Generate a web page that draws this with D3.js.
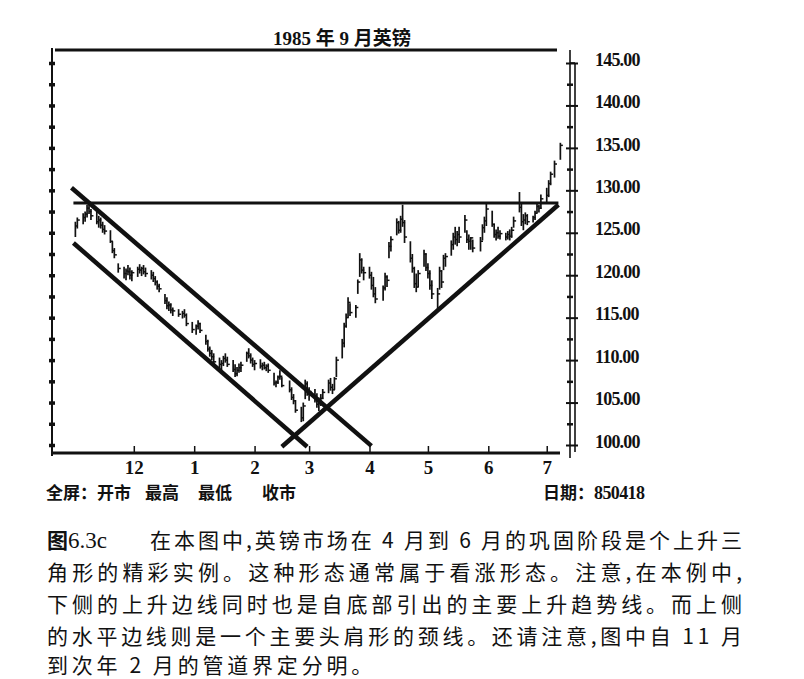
<!DOCTYPE html>
<html>
<head>
<meta charset="utf-8">
<script src="https://cdn.jsdelivr.net/npm/d3@7"></script>
<style>
body { margin: 0; background: #fff; }
</style>
</head>
<body>
<div id="chart"></div>
<script>
// daily bars, 1985 Sept British pound contract (trading days, yymmdd)
var dates = [
    "841101","841102","841105","841106","841107","841108","841109","841112","841113","841114","841115","841116","841119","841120","841121","841123","841126","841127","841128","841129","841130",
    "841203","841204","841205","841206","841207","841210","841211","841212","841213","841214","841217","841218","841219","841220","841221","841224","841226","841227","841228","841231",
    "850102","850103","850104","850107","850108","850109","850110","850111","850114","850115","850116","850117","850118","850121","850122","850123","850124","850125","850128","850129","850130","850131",
    "850201","850204","850205","850206","850207","850208","850211","850212","850213","850214","850215","850219","850220","850221","850222","850225","850226","850227","850228",
    "850301","850304","850305","850306","850307","850308","850311","850312","850313","850314","850315","850318","850319","850320","850321","850322","850325","850326","850327","850328","850329",
    "850401","850402","850403","850404","850408","850409","850410","850411","850412","850415","850416","850417","850418","850419","850422","850423","850424","850425","850426","850429","850430",
    "850501","850502","850503","850506","850507","850508","850509","850510","850513","850514","850515","850516","850517","850520","850521","850522","850523","850524","850528","850529","850530","850531",
    "850603","850604","850605","850606","850607","850610","850611","850612","850613","850614","850617","850618","850619","850620","850621","850624","850625","850626","850627","850628",
    "850701","850702","850703","850705","850708"
];
var highs = [
    126.3,126.8,127.3,127.5,128.3,128.6,127.8,127.5,127.0,126.8,126.3,125.9,125.3,124.0,123.2,121.4,121.0,120.8,121.2,120.9,120.6,
    121.0,121.3,121.0,121.2,120.9,120.6,120.4,119.9,119.4,119.0,117.8,117.4,116.9,116.7,116.2,116.0,115.8,116.0,115.5,114.5,
    114.2,114.7,114.4,113.0,112.4,111.6,111.2,110.8,110.3,110.0,110.5,110.8,110.4,110.0,109.5,109.2,109.6,109.8,111.0,111.4,110.8,110.3,
    110.0,110.1,109.7,109.8,109.5,109.6,108.5,107.6,108.2,108.8,108.0,107.6,106.8,106.0,105.3,104.5,105.0,107.7,107.5,
    106.8,106.6,106.1,105.6,106.0,106.6,107.7,107.9,107.2,108.0,110.4,112.5,114.4,115.5,117.4,116.7,116.5,119.5,122.6,122.0,121.0,
    121.0,120.4,119.8,118.6,118.8,120.3,120.0,123.9,124.6,126.7,126.4,127.0,128.3,126.5,124.0,122.5,121.0,120.2,120.6,123.0,122.6,
    121.4,120.6,119.4,118.5,121.0,120.6,122.4,122.6,124.1,125.0,125.7,125.2,125.7,127.1,125.3,124.8,124.5,124.2,124.5,126.0,126.9,128.6,
    127.6,126.1,125.4,125.7,125.3,125.0,125.2,125.4,125.7,126.9,129.8,128.5,127.2,127.4,127.2,127.0,127.6,128.5,128.3,129.5,
    130.3,131.2,132.2,133.5,135.6
];
var lows = [
    124.5,125.5,126.0,126.3,126.8,127.2,126.5,126.0,125.6,125.5,125.0,124.8,123.8,122.6,122.0,120.3,119.6,119.4,120.0,119.5,119.3,
    119.8,120.2,119.9,120.1,119.8,119.5,119.2,118.8,118.3,118.0,116.6,116.0,115.8,115.5,115.2,115.1,114.9,115.0,114.0,113.2,
    113.0,113.6,113.2,111.8,111.0,110.4,110.0,109.5,109.0,108.8,109.3,109.7,109.2,108.6,108.0,108.1,108.5,108.6,109.8,110.2,109.6,109.2,
    108.8,109.0,108.8,108.9,108.7,108.5,107.0,106.8,107.2,107.7,106.8,106.2,105.3,104.8,103.8,102.7,102.8,105.4,105.8,
    105.2,105.0,104.4,104.0,104.6,105.4,106.1,106.4,106.0,106.5,108.0,110.2,111.5,113.8,115.0,115.2,115.0,117.8,119.8,120.2,119.4,
    119.6,118.3,117.4,116.7,117.0,118.2,118.6,122.0,122.8,124.7,124.9,125.0,125.7,123.8,121.5,120.3,118.5,118.0,118.6,121.0,120.5,
    119.6,118.3,117.2,115.8,118.3,118.5,120.6,121.0,122.3,123.0,123.6,123.4,123.8,125.0,123.8,123.0,123.0,122.7,122.8,124.1,125.0,125.8,
    125.7,124.4,124.1,124.3,124.2,124.1,124.2,124.1,124.4,125.6,127.4,125.8,125.3,126.0,125.9,126.2,126.5,127.3,127.4,127.8,
    128.6,129.2,130.6,131.5,133.6
];
var closes = [
    125.8,126.5,126.8,127.2,127.9,127.5,127.0,126.3,126.5,125.9,125.4,125.2,124.0,122.9,122.4,120.8,120.2,120.5,120.4,120.0,120.3,
    120.7,120.6,120.8,120.4,120.2,120.0,119.6,119.2,118.7,118.4,117.0,116.4,116.5,115.9,115.8,115.4,115.5,115.3,114.3,113.6,
    114.0,114.3,113.5,112.2,111.3,110.8,110.4,109.8,109.5,109.6,110.2,110.0,109.5,108.9,108.4,108.8,109.1,109.4,110.8,110.5,110.0,109.5,
    109.6,109.3,109.4,109.1,109.3,108.8,107.3,107.4,108.0,108.1,107.0,106.5,105.6,105.2,104.1,103.2,104.6,107.2,106.0,
    106.3,105.4,104.8,105.2,105.5,106.2,107.3,106.8,106.5,107.8,110.0,112.0,114.0,115.0,116.8,115.6,116.2,119.2,121.8,120.6,120.3,
    120.0,118.8,117.8,117.2,118.5,119.8,119.4,123.4,124.2,126.2,125.3,126.6,126.2,124.5,122.0,120.8,119.0,118.6,120.2,122.5,120.9,
    120.2,118.8,117.8,117.8,120.5,119.2,122.0,122.2,123.6,124.5,124.2,124.8,124.5,126.5,124.2,124.0,124.4,123.2,124.0,125.6,126.4,127.8,
    126.0,124.8,125.0,124.6,124.9,124.5,124.8,124.6,125.3,126.4,128.0,126.3,126.5,127.0,126.3,126.8,127.3,128.1,127.9,129.0,
    129.4,130.8,131.9,133.1,135.3
];

var priceTicks = [100, 105, 110, 115, 120, 125, 130, 135, 140, 145];
var halfTicks = [102.5, 107.5, 112.5, 117.5, 122.5, 127.5, 132.5, 137.5, 142.5];
var monthTicks = ["841201", "850101", "850201", "850301", "850401", "850501", "850601", "850701"];
var monthLabels = ["12", "1", "2", "3", "4", "5", "6", "7"];

// drawn trend lines: [date, price] end points
var channelUpper = [["841030", 130.3], ["850402", 99.9]];
var channelLower = [["841031", 123.8], ["850228", 99.8]];
var supportLine = [["850215", 99.8], ["850707", 128.3]];
var neckline = [["841031", 128.5], ["850707", 128.5]];

var title = "1985 年 9 月英镑";
var captionLines = [
    "在本图中,英镑市场在\u20094\u2009月到\u20096\u2009月的巩固阶段是个上升三",
    "角形的精彩实例。这种形态通常属于看涨形态。注意,在本例中,",
    "下侧的上升边线同时也是自底部引出的主要上升趋势线。而上侧",
    "的水平边线则是一个主要头肩形的颈线。还请注意,图中自\u200911\u2009月",
    "到次年\u20092\u2009月的管道界定分明。"
];

var svgWidth = 804;
var svgHeight = 679;
var ink = '#111';
var serif = "'Liberation Serif', 'Noto Sans CJK SC', serif";
var cjk = "'Noto Sans CJK SC', sans-serif";

var parseDay = d3.timeParse('%y%m%d');

var bars = dates.map(function (d, i) {
    return {date: parseDay(d), high: highs[i], low: lows[i], close: closes[i]};
});

var x = d3.scaleTime()
    .domain([parseDay("841020"), parseDay("850715")])
    .range([52, 574]);
var y = d3.scaleLinear()
    .domain([100, 145])
    .range([445, 63]);

var svg = d3.select('#chart')
    .append('svg')
    .attr('width', svgWidth)
    .attr('height', svgHeight)
    .style('display', 'block')
    .style('background', '#fff');

// title and top rule
svg.append('text')
    .attr('x', 342)
    .attr('y', 45)
    .attr('text-anchor', 'middle')
    .attr('font-family', serif)
    .attr('font-weight', 'bold')
    .attr('font-size', '19px')
    .attr('fill', ink)
    .text(title);

svg.append('line')
    .attr('x1', 55).attr('x2', 557)
    .attr('y1', 50).attr('y2', 50)
    .attr('stroke', ink)
    .attr('stroke-width', 3);

// left axis: line with dots
svg.append('line')
    .attr('x1', 52).attr('x2', 52)
    .attr('y1', 48).attr('y2', 456)
    .attr('stroke', ink)
    .attr('stroke-width', 2);

var leftAxis = svg.append('g')
    .attr('transform', 'translate(52,0)')
    .call(d3.axisLeft(y).tickValues(priceTicks.concat(halfTicks)).tickSizeInner(3).tickSizeOuter(0).tickFormat(''));
leftAxis.select('.domain').remove();
leftAxis.selectAll('.tick line')
    .attr('x1', 3)
    .attr('stroke', ink)
    .attr('stroke-width', 3.5);

// right axis: double rule, ticks and labels
svg.append('line')
    .attr('x1', 570).attr('x2', 570)
    .attr('y1', 50).attr('y2', 458)
    .attr('stroke', ink).attr('stroke-width', 1.6);
svg.append('line')
    .attr('x1', 575).attr('x2', 575)
    .attr('y1', y(145)).attr('y2', 452)
    .attr('stroke', ink).attr('stroke-width', 1.6);
svg.append('line')
    .attr('x1', 570).attr('x2', 575)
    .attr('y1', y(145)).attr('y2', y(145))
    .attr('stroke', ink).attr('stroke-width', 1.6);

var rightAxis = svg.append('g')
    .attr('transform', 'translate(566,0)')
    .call(d3.axisRight(y).tickValues(priceTicks).tickFormat(d3.format('.2f'))
        .tickSizeInner(12).tickSizeOuter(0).tickPadding(17));
rightAxis.select('.domain').remove();
rightAxis.selectAll('.tick line')
    .attr('stroke', ink)
    .attr('stroke-width', 2);
rightAxis.selectAll('.tick text')
    .attr('font-family', serif)
    .attr('font-weight', 'bold')
    .attr('font-size', '18px')
    .attr('letter-spacing', '-0.8')
    .attr('dy', '0.12em')
    .attr('fill', ink);

var rightMinor = svg.append('g')
    .attr('transform', 'translate(567,0)')
    .call(d3.axisRight(y).tickValues(halfTicks).tickFormat('').tickSizeInner(6).tickSizeOuter(0));
rightMinor.select('.domain').remove();
rightMinor.selectAll('.tick line')
    .attr('stroke', ink)
    .attr('stroke-width', 2.5);

// bottom axis with month ticks
svg.append('line')
    .attr('x1', 53).attr('x2', 560)
    .attr('y1', 453).attr('y2', 453)
    .attr('stroke', ink)
    .attr('stroke-width', 3);

var bottomAxis = svg.append('g')
    .attr('transform', 'translate(0,453)')
    .call(d3.axisBottom(x).tickValues(monthTicks.map(parseDay))
        .tickFormat(function (d, i) { return monthLabels[i]; })
        .tickSizeInner(-7).tickSizeOuter(0).tickPadding(8));
bottomAxis.select('.domain').remove();
bottomAxis.selectAll('.tick line')
    .attr('stroke', ink)
    .attr('stroke-width', 1.5);
bottomAxis.selectAll('.tick text')
    .attr('font-family', serif)
    .attr('font-weight', 'bold')
    .attr('font-size', '19px')
    .attr('fill', ink);

// price bars: high-low with close tick
svg.append('g').selectAll('line')
    .data(bars)
    .enter()
    .append('line')
    .attr('x1', function (d) { return x(d.date); })
    .attr('x2', function (d) { return x(d.date); })
    .attr('y1', function (d) { return y(d.high); })
    .attr('y2', function (d) { return y(d.low); })
    .attr('stroke', ink)
    .attr('stroke-width', 1.7);

svg.append('g').selectAll('line')
    .data(bars)
    .enter()
    .append('line')
    .attr('x1', function (d) { return x(d.date); })
    .attr('x2', function (d) { return x(d.date) + 2.5; })
    .attr('y1', function (d) { return y(d.close); })
    .attr('y2', function (d) { return y(d.close); })
    .attr('stroke', ink)
    .attr('stroke-width', 1.5);

// trend lines
function drawTrend(pts, width) {
    svg.append('line')
        .attr('x1', x(parseDay(pts[0][0])))
        .attr('y1', y(pts[0][1]))
        .attr('x2', x(parseDay(pts[1][0])))
        .attr('y2', y(pts[1][1]))
        .attr('stroke', ink)
        .attr('stroke-width', width);
}
drawTrend(neckline, 3);
drawTrend(channelUpper, 4.5);
drawTrend(channelLower, 4.5);
drawTrend(supportLine, 4.5);

// legend line under the chart
var legendItems = [["全屏：开市", 46], ["最高", 145], ["最低", 198], ["收市", 262]];
legendItems.forEach(function (item) {
    svg.append('text')
        .attr('x', item[1])
        .attr('y', 499)
        .attr('font-family', cjk)
        .attr('font-weight', 'bold')
        .attr('font-size', '17px')
        .attr('fill', ink)
        .text(item[0]);
});

var dateText = svg.append('text')
    .attr('x', 543)
    .attr('y', 499)
    .attr('font-weight', 'bold')
    .attr('fill', ink);
dateText.append('tspan')
    .attr('font-family', cjk)
    .attr('font-size', '17px')
    .text('日期：');
dateText.append('tspan')
    .attr('font-family', serif)
    .attr('font-size', '18px')
    .attr('letter-spacing', '-0.6')
    .text('850418');

// caption
var figLabel = svg.append('text')
    .attr('x', 47)
    .attr('y', 548)
    .attr('fill', ink);
figLabel.append('tspan')
    .attr('font-family', cjk)
    .attr('font-weight', 'bold')
    .attr('font-size', '21px')
    .text('图');
figLabel.append('tspan')
    .attr('font-family', serif)
    .attr('font-size', '23px')
    .text('6.3c');

var captionX = [150, 47, 47, 47, 47];
var captionY = [548, 580, 612, 644, 673];
captionLines.forEach(function (line, i) {
    var t = svg.append('text')
        .attr('x', captionX[i])
        .attr('y', captionY[i])
        .attr('font-family', cjk)
        .attr('font-size', '21px')
        .attr('fill', ink)
        .text(line);
    if (i < 4) {
        t.attr('textLength', 742 - captionX[i])
            .attr('lengthAdjust', 'spacing');
    } else {
        t.attr('letter-spacing', '3.8');
    }
});
</script>
</body>
</html>
